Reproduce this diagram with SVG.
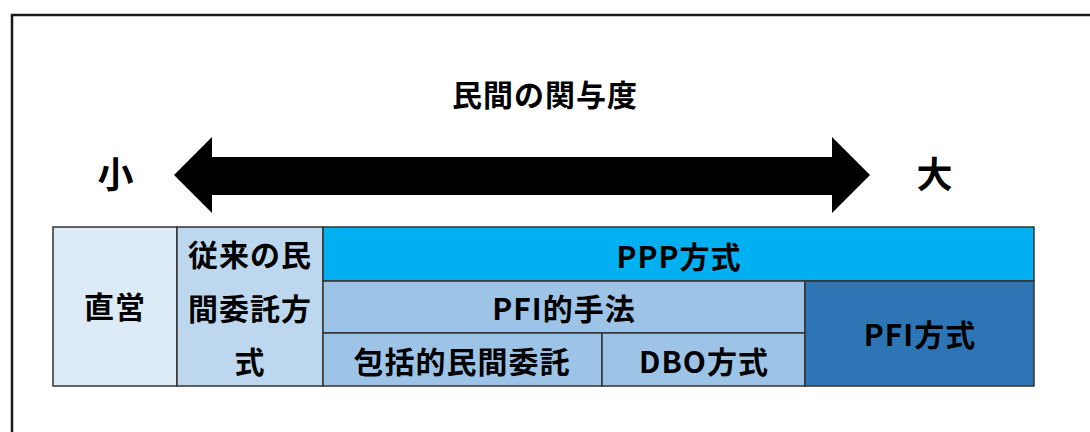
<svg xmlns="http://www.w3.org/2000/svg" width="1090" height="432" viewBox="0 0 1090 432">
<style>
  text { font-family: "Noto Sans CJK JP", "Noto Sans", sans-serif; font-weight: 700; font-size: 30px; fill: #000; text-anchor: middle; dominant-baseline: central; letter-spacing: 1px; }
  .big { font-size: 36px; }
  .cell { stroke: #333; stroke-width: 1.5; }
</style>
<rect x="12" y="15" width="1100" height="450" fill="#fff" stroke="#1a1a1a" stroke-width="2.5"/>
<g id="title"><text x="545" y="93">民間の関与度</text></g>
<g id="connectors">
  <polygon points="174,175 212,137 212,157 832,157 832,137 870,175 832,213 832,195 212,195 212,213" fill="#000"/>
</g>
<g id="small"><text class="big" x="116" y="172">小</text></g>
<g id="large"><text class="big" x="935" y="172">大</text></g>
<g id="chokuei"><rect class="cell" x="53" y="227" width="124" height="159" fill="#DDEBF7"/><text x="115" y="305">直営</text></g>
<g id="juurai"><rect class="cell" x="177" y="227" width="146" height="159" fill="#BDD7EE"/>
  <text x="250" y="253">従来の民</text><text x="250" y="307">間委託方</text><text x="250" y="360">式</text></g>
<g id="ppp"><rect class="cell" x="323" y="227" width="711" height="54" fill="#00B0F0"/><text x="679" y="255">PPP方式</text></g>
<g id="pfi-teki"><rect class="cell" x="323" y="281" width="482" height="52" fill="#9DC3E6"/><text x="564" y="307">PFI的手法</text></g>
<g id="houkatsu"><rect class="cell" x="323" y="333" width="279" height="53" fill="#9DC3E6"/><text x="462" y="360">包括的民間委託</text></g>
<g id="dbo"><rect class="cell" x="602" y="333" width="203" height="53" fill="#9DC3E6"/><text x="704" y="360">DBO方式</text></g>
<g id="pfi"><rect class="cell" x="805" y="281" width="229" height="105" fill="#2E75B6"/><text x="920" y="333">PFI方式</text></g>
</svg>
